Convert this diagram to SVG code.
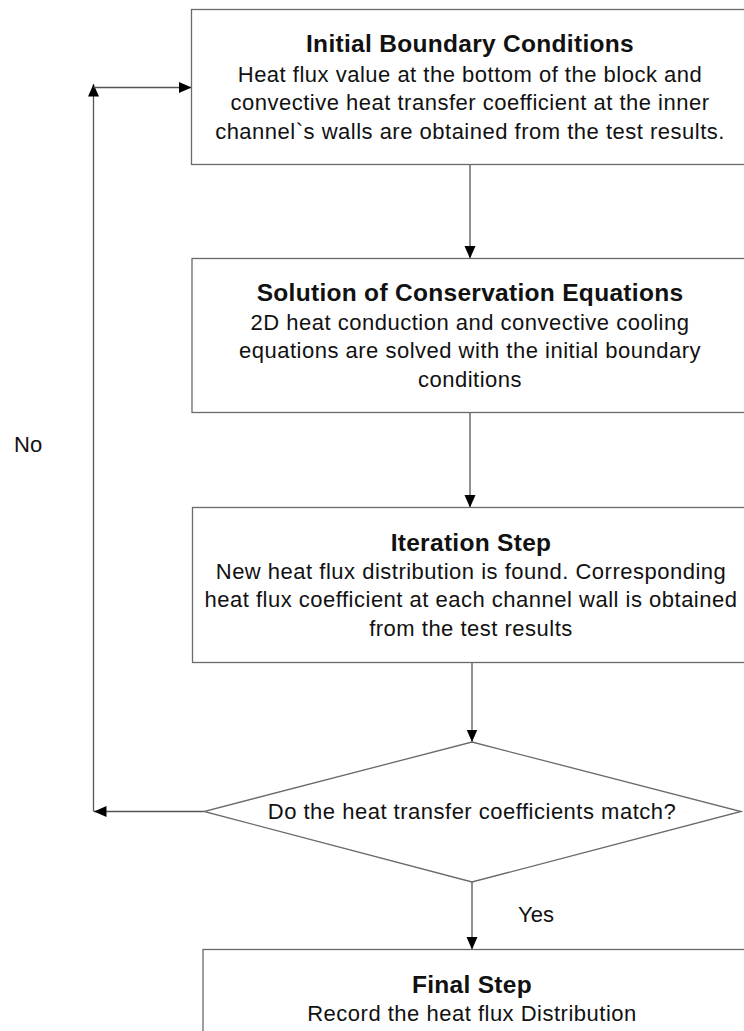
<svg xmlns="http://www.w3.org/2000/svg" width="744" height="1031" viewBox="0 0 744 1031">
  <defs>
    <marker id="arrow" markerUnits="userSpaceOnUse" markerWidth="13" markerHeight="12" refX="12.5" refY="5.5" orient="auto">
      <path d="M0,0 L12.5,5.5 L0,11 z" fill="#000"/>
    </marker>
    <style>
      .box { fill: #fff; stroke: #6a6a6a; stroke-width: 1.3; }
      .conn { fill: none; stroke: #555; stroke-width: 1.3; }
      text { font-family: "Liberation Sans", Arial, sans-serif; fill: #111; }
      .title { font-size: 24.5px; font-weight: bold; text-anchor: middle; letter-spacing: 0.3px; }
      .body { font-size: 22px; text-anchor: middle; letter-spacing: 0.5px; }
      .label { font-size: 22px; }
    </style>
  </defs>

  <rect width="744" height="1031" fill="#fff"/>

  <!-- connectors -->
  <g id="connectors">
    <path class="conn" d="M470,164.5 V258.5" marker-end="url(#arrow)"/>
    <path class="conn" d="M470,412.5 V507.5" marker-end="url(#arrow)"/>
    <path class="conn" d="M472,662.5 V742" marker-end="url(#arrow)"/>
    <path class="conn" d="M472,882 V949.5" marker-end="url(#arrow)"/>
    <!-- "No" loop back to the top box -->
    <path class="conn" d="M204,811.5 H94" marker-end="url(#arrow)"/>
    <path class="conn" d="M93.5,811.5 V84" marker-end="url(#arrow)"/>
    <path class="conn" d="M93.5,87.5 H191.5" marker-end="url(#arrow)"/>
    <text class="label" x="14" y="452">No</text>
    <text class="label" x="518" y="922">Yes</text>
  </g>

  <g id="initial-boundary-conditions">
    <rect class="box" x="191.5" y="9.5" width="580" height="155"/>
    <text class="title" x="470" y="52">Initial Boundary Conditions</text>
    <text class="body" x="470" y="82">Heat flux value at the bottom of the block and</text>
    <text class="body" x="470" y="110">convective heat transfer coefficient at the inner</text>
    <text class="body" x="470" y="139">channel`s walls are obtained from the test results.</text>
  </g>

  <g id="solution-of-conservation-equations">
    <rect class="box" x="192" y="258.5" width="580" height="154"/>
    <text class="title" x="470" y="301">Solution of Conservation Equations</text>
    <text class="body" x="470" y="330">2D heat conduction and convective cooling</text>
    <text class="body" x="470" y="358">equations are solved with the initial boundary</text>
    <text class="body" x="470" y="387">conditions</text>
  </g>

  <g id="iteration-step">
    <rect class="box" x="192.5" y="507.5" width="580" height="155"/>
    <text class="title" x="471" y="551">Iteration Step</text>
    <text class="body" x="471" y="579">New heat flux distribution is found. Corresponding</text>
    <text class="body" x="471" y="607">heat flux coefficient at each channel wall is obtained</text>
    <text class="body" x="471" y="636">from the test results</text>
  </g>

  <g id="coefficients-match">
    <polygon class="box" points="472,742 741,811.5 472,882 204,811.5"/>
    <text class="body" x="472" y="819">Do the heat transfer coefficients match?</text>
  </g>

  <g id="final-step">
    <rect class="box" x="203" y="949.5" width="580" height="120"/>
    <text class="title" x="472" y="993">Final Step</text>
    <text class="body" x="472" y="1021">Record the heat flux Distribution</text>
  </g>
</svg>
